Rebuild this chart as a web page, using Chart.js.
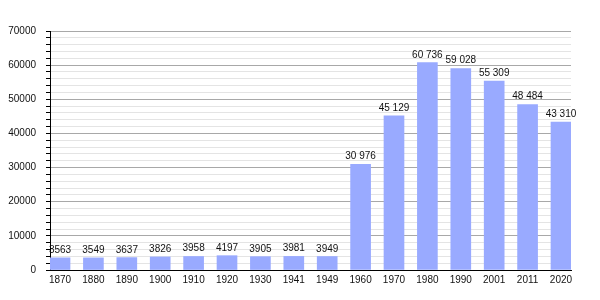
<!DOCTYPE html>
<html>
<head>
<meta charset="utf-8">
<script src="https://cdn.jsdelivr.net/npm/chart.js@4"></script>
<style>
  html, body { margin: 0; padding: 0; background: #fff; }
  #wrap { width: 600px; height: 300px; }
</style>
</head>
<body>
<div id="wrap"><canvas id="popChart" width="600" height="300"></canvas></div>
<script>
// Census years and population
const years = ['1870', '1880', '1890', '1900', '1910', '1920', '1930', '1941', '1949',
               '1960', '1970', '1980', '1990', '2001', '2011', '2020'];
const population = [3563, 3549, 3637, 3826, 3958, 4197, 3905, 3981, 3949,
                    30976, 45129, 60736, 59028, 55309, 48484, 43310];

// Y axis: labelled every 10000, light lines every 2000
const yMax = 70000;
const yMajorStep = 10000;
const yMinorStep = 2000;

Chart.defaults.font.family = '"Liberation Sans", Arial, sans-serif';
Chart.defaults.font.size = 10;
Chart.defaults.color = '#222';

// French style thousands separator above 9999
function formatPop(v) {
    if (v < 10000) return String(v);
    return String(v).replace(/\B(?=(\d{3})+(?!\d))/g, ' ');
}

// Draw the value above each bar
const valueLabels = {
    id: 'valueLabels',
    afterDatasetsDraw(chart) {
        const ctx = chart.ctx;
        const meta = chart.getDatasetMeta(0);
        ctx.save();
        ctx.font = '10px "Liberation Sans", Arial, sans-serif';
        ctx.fillStyle = '#111';
        ctx.textAlign = 'center';
        ctx.textBaseline = 'alphabetic';
        meta.data.forEach(function(bar, i) {
            ctx.fillText(formatPop(population[i]), bar.x, bar.y - 5);
        });
        ctx.restore();
    }
};

const ctx = document.getElementById('popChart').getContext('2d');
const popChart = new Chart(ctx, {
    type: 'bar',
    data: {
        datasets: [{
            data: population.map((v, i) => ({ x: i, y: v })),
            backgroundColor: '#99aaff',
            borderWidth: 0,
            barThickness: 20
        }]
    },
    options: {
        responsive: false,
        animation: false,
        layout: { padding: { top: 31, right: 29, left: 0, bottom: 0 } },
        plugins: {
            legend: { display: false },
            tooltip: { enabled: false }
        },
        scales: {
            x: {
                type: 'linear',
                offset: false,
                min: -0.3,
                max: years.length - 0.7,
                afterBuildTicks: function(scale) {
                    scale.ticks = years.map((_, i) => ({ value: i }));
                },
                afterFit: function(scale) { scale.height = 30; },
                grid: { display: false, drawTicks: false },
                border: { display: true, color: '#000', width: 1 },
                ticks: {
                    padding: 4,
                    autoSkip: false,
                    maxRotation: 0,
                    color: '#111',
                    callback: function(value) { return years[value]; }
                }
            },
            y: {
                min: 0,
                max: yMax,
                afterFit: function(scale) { scale.width = 50; },
                border: { display: true, color: '#000', width: 1 },
                grid: {
                    color: function(c) {
                        return c.tick && c.tick.value % yMajorStep === 0 ? '#a8a8a8' : '#e4e4e4';
                    },
                    tickColor: '#000',
                    tickLength: 4,
                    drawTicks: true
                },
                ticks: {
                    stepSize: yMinorStep,
                    autoSkip: false,
                    maxTicksLimit: 100,
                    padding: 10,
                    color: '#111',
                    callback: function(value) {
                        return value % yMajorStep === 0 ? String(value) : '';
                    }
                }
            }
        }
    },
    plugins: [valueLabels]
});
</script>
</body>
</html>
